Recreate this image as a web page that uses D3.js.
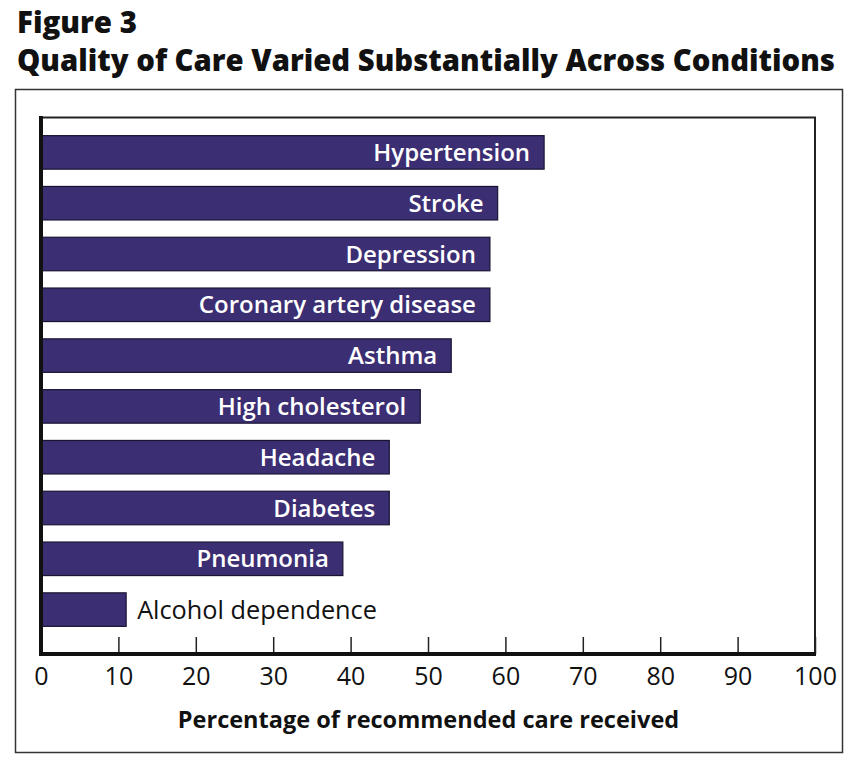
<!DOCTYPE html>
<html><head><meta charset="utf-8">
<script src="https://cdn.jsdelivr.net/npm/d3@7/dist/d3.min.js"></script>
<style>body{margin:0;background:#fff}svg{display:block}</style>
</head><body>
<svg id="chart" width="860" height="766"></svg>
<script>
const categories = ["Hypertension","Stroke","Depression","Coronary artery disease","Asthma","High cholesterol","Headache","Diabetes","Pneumonia","Alcohol dependence"];
const values = [65,59,58,58,53,49,45,45,39,11];
const tickValues = [0,10,20,30,40,50,60,70,80,90,100];
const titleLines = ["Figure 3","Quality of Care Varied Substantially Across Conditions"];
const xLabel = "Percentage of recommended care received";

const svg = d3.select("#chart");
const font = "'Open Sans', sans-serif";
const barColor = "#3b2e72";

svg.append("text").attr("x",17).attr("y",33).attr("font-family",font).attr("font-weight",800)
  .attr("font-size",30).attr("fill","#111").attr("textLength",120).attr("lengthAdjust","spacingAndGlyphs").text(titleLines[0]);
svg.append("text").attr("x",17).attr("y",71).attr("font-family",font).attr("font-weight",800)
  .attr("font-size",30).attr("fill","#111").attr("textLength",818).attr("lengthAdjust","spacingAndGlyphs").text(titleLines[1]);

// outer frame
svg.append("rect").attr("x",15.5).attr("y",89.5).attr("width",827).attr("height",663)
  .attr("fill","none").attr("stroke","#333").attr("stroke-width",1.5);

const x = d3.scaleLinear().domain([0,100]).range([41,815]);
const y = d3.scaleBand().domain(categories).range([127,635]).paddingInner(0.34).paddingOuter(0.17);
const axisY = 654;

// inner frame top/right
svg.append("path").attr("d",`M${x(0)},117.5H${x(100)}V${axisY}`).attr("fill","none").attr("stroke","#222").attr("stroke-width",2);

// bars
svg.append("g").selectAll("rect").data(categories).join("rect")
  .attr("x",x(0)).attr("y",d=>y(d)).attr("width",(d,i)=>x(values[i])-x(0)).attr("height",y.bandwidth())
  .attr("fill",barColor).attr("stroke","#1a1433").attr("stroke-width",1.2);

// labels
svg.append("g").selectAll("text").data(categories).join("text")
  .attr("x",(d,i)=> values[i] > 20 ? x(values[i]) - 14 : x(values[i]) + 11)
  .attr("y",d=>y(d)+y.bandwidth()/2)
  .attr("dy","0.36em")
  .attr("text-anchor",(d,i)=> values[i] > 20 ? "end" : "start")
  .attr("font-family",font)
  .attr("font-size",(d,i)=> values[i] > 20 ? 24 : 25.3)
  .attr("font-weight",(d,i)=> values[i] > 20 ? 600 : 400)
  .attr("fill",(d,i)=> values[i] > 20 ? "#fff" : "#111")
  .text(d=>d);

// x axis
const xAxis = d3.axisBottom(x).tickValues(tickValues).tickSize(-17).tickPadding(14).tickFormat(d3.format("d"));
const gx = svg.append("g").attr("transform",`translate(0,${axisY})`).call(xAxis);
gx.select(".domain").remove();
gx.selectAll(".tick line").attr("stroke","#222").attr("stroke-width",1.5);
gx.selectAll(".tick text").attr("font-family",font).attr("font-size",25).attr("fill","#111").attr("dy","0.71em");
gx.selectAll(".tick text").attr("y",13);
// axis lines (thick)
svg.append("line").attr("x1",x(0)).attr("x2",x(100)+1).attr("y1",axisY).attr("y2",axisY).attr("stroke","#111").attr("stroke-width",4);
svg.append("line").attr("x1",x(0)).attr("x2",x(0)).attr("y1",116).attr("y2",axisY+2).attr("stroke","#111").attr("stroke-width",4);

svg.append("text").attr("x",428.5).attr("y",728).attr("text-anchor","middle").attr("font-family",font)
  .attr("font-weight",700).attr("font-size",23.5).attr("fill","#111").text(xLabel);
</script>
</body></html>
